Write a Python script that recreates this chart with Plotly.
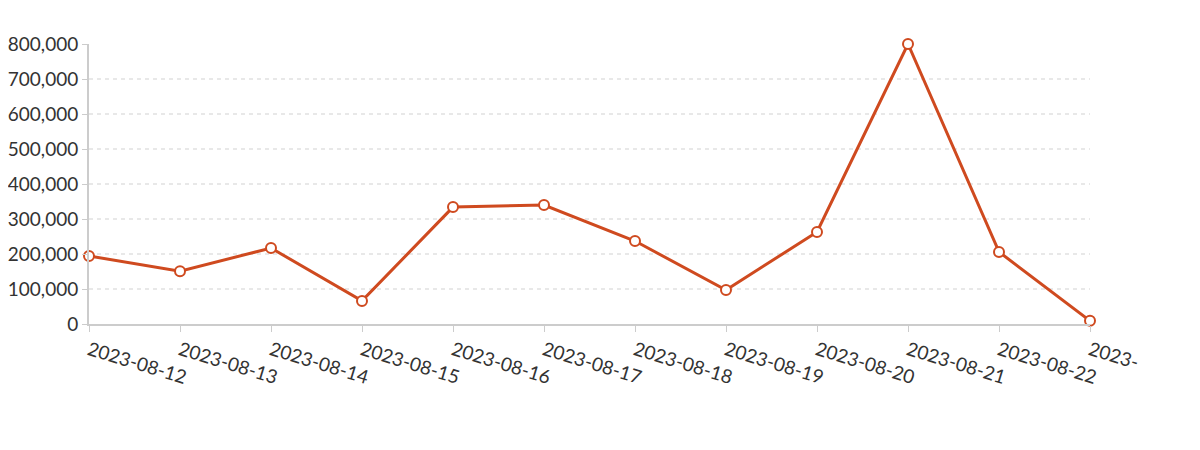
import plotly.graph_objects as go

dates = ["2023-08-12", "2023-08-13", "2023-08-14", "2023-08-15", "2023-08-16", "2023-08-17",
         "2023-08-18", "2023-08-19", "2023-08-20", "2023-08-21", "2023-08-22", "2023-08-23"]
values = [194000, 151000, 217000, 66000, 334000, 340000, 237000, 97000, 263000, 800000, 206000, 9000]
# last label is cut off at the edge of the original canvas
tick_labels = dates[:-1] + ["2023-"]
y_ticks = [0, 100000, 200000, 300000, 400000, 500000, 600000, 700000, 800000]

fig = go.Figure()
fig.add_trace(go.Scatter(
    x=dates, y=values, mode="lines+markers",
    line=dict(color="#cf4a1f", width=3),
    marker=dict(symbol="circle", size=10, color="white", line=dict(color="#cf4a1f", width=2)),
    cliponaxis=False,
))

# page body adds an 8px offset, so margins are reduced by 8
fig.update_layout(
    width=1200, height=450,
    margin=dict(l=81, r=118, t=36, b=134),
    paper_bgcolor="white", plot_bgcolor="white",
    showlegend=False,
    font=dict(family="Lato", size=19, color="#333"),
)
fig.update_xaxes(
    type="category", range=[0, len(dates) - 1],
    tickvals=dates, ticktext=tick_labels, tickangle=17,
    showline=True, linecolor="#ccc", linewidth=2,
    ticks="outside", ticklen=6, tickcolor="#ccc", tickwidth=1,
    showgrid=False, automargin=False,
)
fig.update_yaxes(
    range=[0, 800000], tickvals=y_ticks, tickformat=",d",
    showline=True, linecolor="#ccc", linewidth=2,
    ticks="outside", ticklen=5, tickcolor="#ccc",
    showgrid=True, gridcolor="#e8e8e8", griddash="4px,4px", gridwidth=2,
    zeroline=False, automargin=False,
)

fig.write_html("out.html")
